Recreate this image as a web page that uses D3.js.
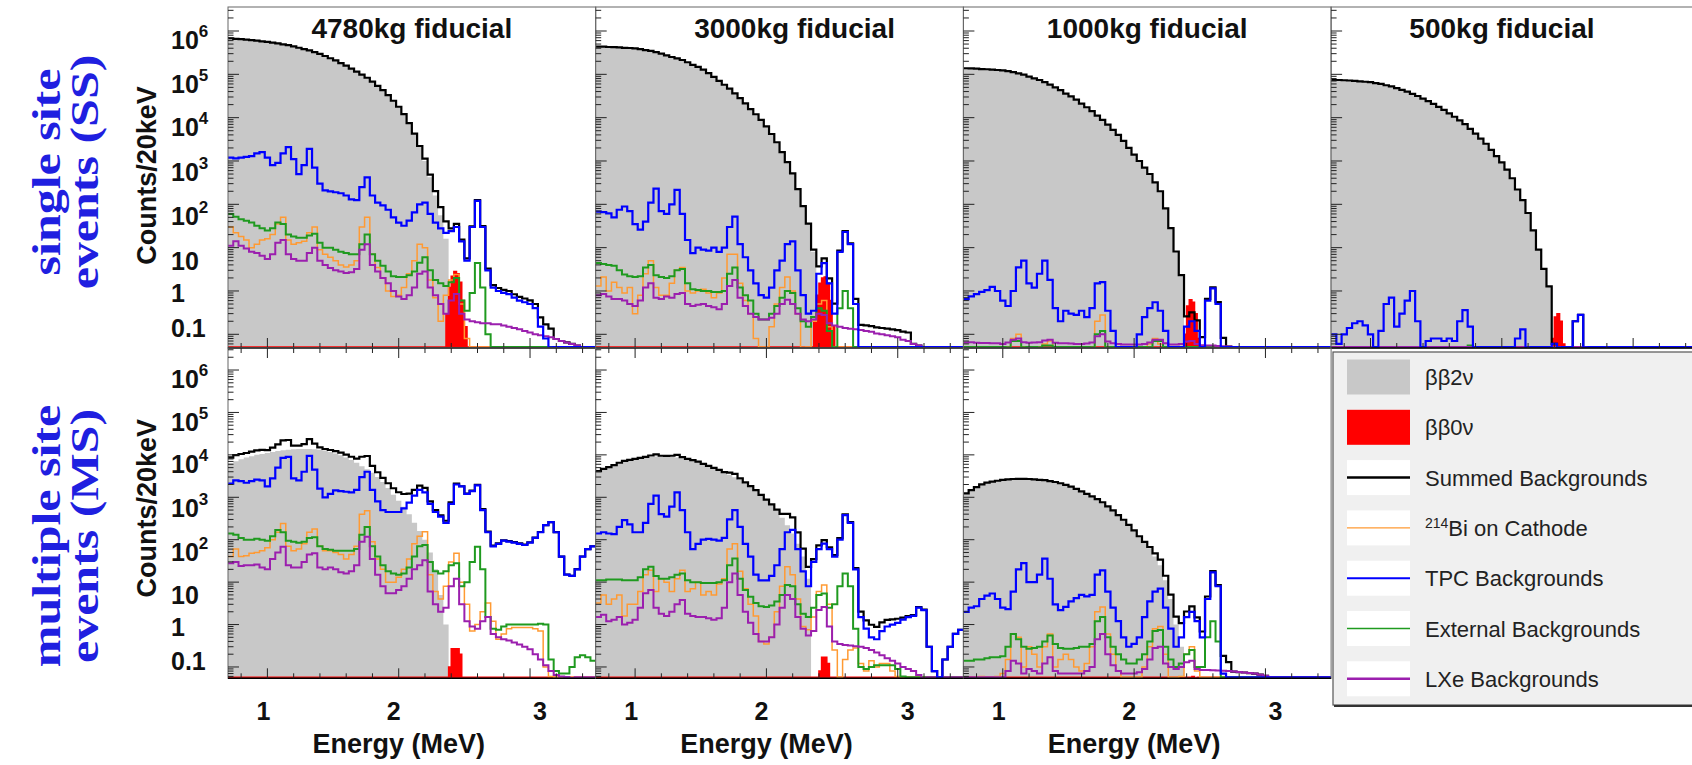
<!DOCTYPE html>
<html>
<head>
<meta charset="utf-8">
<script src="https://cdn.jsdelivr.net/npm/d3@7"></script>
<style>
  body { margin: 0; background: #fff; }
  svg text { font-family: "Liberation Sans", Arial, Helvetica, sans-serif; }
</style>
</head>
<body>
<svg id="chart" width="1692" height="765"></svg>
<script>
// ---------------------------------------------------------------
// Energy binning: 40 keV bins, lower edges in MeV
// ---------------------------------------------------------------
const binLow = [0.70,0.74,0.78,0.82,0.86,0.90,0.94,0.98,1.02,1.06,1.10,1.14,1.18,1.22,1.26,1.30,1.34,1.38,1.42,1.46,
  1.50,1.54,1.58,1.62,1.66,1.70,1.74,1.78,1.82,1.86,1.90,1.94,1.98,2.02,2.06,2.10,2.14,2.18,2.22,2.26,
  2.30,2.34,2.38,2.42,2.46,2.50,2.54,2.58,2.62,2.66,2.70,2.74,2.78,2.82,2.86,2.90,2.94,2.98,3.02,3.06,
  3.10,3.14,3.18,3.22,3.26,3.30,3.34,3.38,3.42,3.46];
const energyMax = 3.50;
const zeroNuBin = 0.02;   // the ββ0ν peak is binned at 20 keV

const panelTitles = ["4780kg fiducial", "3000kg fiducial", "1000kg fiducial", "500kg fiducial"];
const rowTitles = [["single site", "events (SS)"], ["multiple site", "events (MS)"]];
const xTickValues = [1, 2, 3];
const yTickValues = [0.1, 1, 10, 1e2, 1e3, 1e4, 1e5, 1e6];
const yTickLabels = [["0.1", ""], ["1", ""], ["10", ""], ["10", "2"], ["10", "3"], ["10", "4"], ["10", "5"], ["10", "6"]];

// ---------------------------------------------------------------
// Counts / 20 keV per component (missing trailing bins are empty)
// ---------------------------------------------------------------
// single site, 4780 kg
const ss4780_2nu = [680000,660000,645000,630000,615000,600000,575000,560000,540000,515000,490000,470000,440000,410000,380000,355000,325000,295000,265000,235000,210000,182000,158000,135000,115000,98000,83000,68000,54000,43000,33000,24500,17800,12000,7400,4200,2100,1000,420,160,56,16];
const ss4780_tpc = [1200,1150,1200,1250,1300,1500,1600,1200,800,900,1500,2100,1100,500,800,1900,700,300,210,200,190,180,160,130,125,250,420,160,110,95,75,50,38,32,42,65,100,110,60,38,28,22,24,30,14,5,30,120,30,3,1.2,1.0,0.9,0.85,0.7,0.6,0.55,0.5,0.4,0.15,0.08,0.05];
const ss4780_ext = [60,52,45,42,38,32,28,25,28,38,35,20,18,17,17,19,21,13,10,10,9,8,7.5,7,7,12,20,7,5,3.8,2.8,2.2,2.1,2.1,2.3,2.8,4.5,6,3,1.8,1.5,1.3,1.6,2,0.6,0.35,0.9,4.4,1.2,0.1];
const ss4780_bi = [30,22,18,15,10,12,15,16,20,35,50,15,12,13,14,22,30,9,7,6,5,4,3.6,4,5,30,50,7,3.5,2,1,0.75,0.8,1.2,2.5,5,12,10,1.8,0.7,0.2,0.8,1.8,2.4,0.5,0.08];
const ss4780_lxe = [11,14,11,9.5,8,7.5,6.5,5.5,7,13,15,7,5.5,5,5,7.5,10,5,4,3.4,3,2.8,2.6,2.7,3.2,9,12,4,2.8,2,1.5,1,0.75,0.65,0.8,1.2,2.5,2.8,1.2,0.8,0.5,0.3,0.6,0.85,0.3,0.22,0.2,0.19,0.18,0.18,0.17,0.17,0.16,0.15,0.14,0.13,0.12,0.11,0.1,0.095,0.09,0.085,0.078,0.07,0.065,0.06,0.055,0.05];
const ss4780_0nu = [[2.36,0.3],[2.38,1.2],[2.40,2.2],[2.42,2.8],[2.44,2.5],[2.46,1.6],[2.48,0.6],[2.50,0.15]];

// single site, 3000 kg
const ss3000_2nu = [436000,436000,427000,425000,417000,407000,405000,398000,380000,363000,347000,324000,302000,275000,251000,234000,214000,190000,166000,148000,129000,107000,87000,71000,57500,46800,36300,28200,21400,15800,12000,8900,6300,4200,2700,1600,930,500,220,90,35,8];
const ss3000_tpc = [68,66,62,50,75,89,70,35,26,40,110,230,70,60,100,215,60,15,7.5,10,9,8.5,10,8,10,30,52,12,6,3,1.5,0.8,0.7,1.2,3,5,12,14,3,0.8,0.3,0.35,2.5,4.4,1.5,0.3,8,23,12,0.5,0.04,0.04,0.04,0.04,0.04,0.04,0.04,0.04,0.04,0.04];
const ss3000_ext = [4.4,4.2,4,3.8,3,2.4,2.2,2.1,2.2,3.5,4,2.3,2.1,2,2.2,3,3.2,1.5,1.1,1.05,1,1,0.95,0.95,1,2.5,3.5,1.2,0.8,0.6,0.3,0.22,0.22,0.3,0.45,0.7,1,0.9,0.4,0.2,0.15,0.25,0.4,0.35,0.12,0.05,0.4,1,0.4,0.03];
const ss3000_bi = [1.3,2.1,1,1.6,1.2,0.9,1.2,0.3,0.8,2.5,5,1.2,0.8,0.8,1.5,3,3.5,1,0.9,1,1.1,0.9,0.7,0.9,2,7,7,1.5,0.6,0.3,0.08,0.03,0.03,0.15,0.5,1.2,2.1,1,0.3,0.05,0.03,0.2,0.5,0.6,0.15];
const ss3000_lxe = [0.8,0.85,0.75,0.65,0.65,0.6,0.5,0.45,0.6,1.2,1.5,0.7,0.65,0.75,0.7,0.85,0.9,0.5,0.45,0.48,0.5,0.45,0.42,0.38,0.5,1.3,1.8,0.7,0.45,0.3,0.25,0.22,0.22,0.24,0.3,0.5,0.63,0.5,0.3,0.22,0.2,0.22,0.3,0.28,0.18,0.16,0.15,0.14,0.135,0.13,0.125,0.12,0.115,0.105,0.1,0.095,0.09,0.085,0.075,0.07,0.06,0.055,0.05];
const ss3000_0nu = [[2.36,0.2],[2.38,0.8],[2.40,1.5],[2.42,2.0],[2.44,2.1],[2.46,1.5],[2.48,0.6],[2.50,0.15]];

// single site, 1000 kg
const ss1000_2nu = [138000,137000,135000,132000,131000,129000,126000,123000,118000,112000,105000,98000,89000,81000,74000,66000,58000,50000,43000,36000,31000,26000,21000,17400,14100,11200,8900,6900,5200,4000,2900,2000,1400,1000,700,500,320,200,80,28,8,2.2];
const ss1000_tpc = [0.65,0.75,0.85,0.95,1.05,1.25,1,0.6,0.45,1,3.5,5,1.5,1.2,2.5,5,1.8,0.4,0.2,0.35,0.3,0.28,0.35,0.25,0.4,1.5,1.6,0.35,0.12,0.04,0.03,0.03,0.05,0.1,0.25,0.4,0.55,0.35,0.12,0.04,0.03,0.03,0.15,0.2,0.12,0.03,0.6,1.15,0.5,0.03];
const ss1000_ext = [0.045,0.045,0.045,0.045,0.045,0.045,0.045,0.045,0.05,0.07,0.07,0.05,0.045,0.045,0.05,0.055,0.055,0.045,0.045,0.045,0.045,0.045,0.045,0.045,0.05,0.1,0.12,0.05,0.045,0.04,0.04,0.04,0.04,0.04,0.045,0.05,0.07,0.07,0.045,0.04,0.04];
const ss1000_bi = [0.03,0.03,0.03,0.03,0.03,0.03,0.03,0.03,0.04,0.08,0.1,0.04,0.03,0.03,0.04,0.06,0.07,0.03,0.03,0.03,0.03,0.03,0.03,0.03,0.05,0.2,0.28,0.05,0.03,0.03,0.03,0.03,0.03,0.03,0.04,0.06,0.08,0.06,0.03,0.03,0.03,0.03,0.04,0.05,0.03];
const ss1000_lxe = [0.065,0.066,0.064,0.063,0.063,0.062,0.062,0.06,0.065,0.075,0.08,0.066,0.064,0.065,0.066,0.072,0.075,0.064,0.062,0.062,0.061,0.06,0.06,0.061,0.065,0.09,0.1,0.068,0.062,0.06,0.058,0.058,0.058,0.058,0.06,0.065,0.075,0.075,0.062,0.058,0.058,0.06,0.068,0.07,0.06,0.056,0.055,0.055,0.054,0.053,0.052,0.051,0.05,0.05,0.049];
const ss1000_0nu = [[2.38,0.1],[2.40,0.45],[2.42,0.63],[2.44,0.55],[2.46,0.3],[2.48,0.08]];

// single site, 500 kg
const ss500_2nu = [74000,74000,73000,72000,71000,69000,67500,66000,63000,60000,56000,52500,48000,43600,39800,35500,31600,27500,24000,20900,17800,15100,12600,10500,8700,7100,5500,4300,3300,2500,1800,1300,930,630,400,220,125,63,25,9,3.2,1.25];
const ss500_tpc = [0.1,0.06,0.1,0.14,0.18,0.2,0.16,0.1,0.04,0.12,0.5,0.7,0.15,0.3,0.6,1,0.2,0.04,0.07,0.08,0.08,0.07,0.08,0.07,0.2,0.36,0.15,0.04,0.03,0.03,0.03,0.03,0.03,0.03,0.03,0.08,0.13,0.05,0.03,0.03,0.03,0.03,0.06,0.05,0.03,0.03,0.2,0.28,0.05];
const ss500_ext = [0,0,0,0,0,0,0,0,0,0,0,0,0,0,0,0,0,0,0,0,0,0,0,0,0,0.05,0.055];
const ss500_bi = [];
const ss500_lxe = [];
const ss500_0nu = [[2.38,0.08],[2.40,0.25],[2.42,0.3],[2.44,0.2],[2.46,0.06]];

// multiple site, 4780 kg
const ms4780_2nu = [6300,7100,7900,8700,9300,10000,10500,11000,11700,12300,12900,13200,13500,13800,13800,13800,13500,13200,12600,11700,10700,9800,8700,7600,6500,5400,4600,3800,3000,2300,1660,1150,830,600,400,250,160,100,50,20,5,1];
const ms4780_tpc = [2100,2500,2400,2200,2400,2600,2500,1800,2800,5000,8500,9000,2800,2500,4000,9500,4500,1600,1000,1200,1450,1400,1350,1300,1500,3000,4000,1500,800,500,450,450,450,550,750,1100,1500,1300,700,450,350,250,700,2000,1800,1200,1400,1900,500,150,70,80,95,90,85,80,75,85,110,150,220,260,150,40,15,14,20,40,60,70];
const ms4780_ext = [140,130,110,100,100,105,100,95,120,170,150,95,90,85,90,110,115,70,60,58,55,55,55,55,60,130,200,70,40,25,18,16,15,16,22,40,70,75,30,18,16,18,25,28,8,10,30,68,20,1.5,0.8,0.75,0.9,1,1,1,1,1,1,1.05,1.0,0.15,0.08,0.07,0.07,0.1,0.17,0.19,0.17,0.14];
const ms4780_bi = [40,60,40,42,48,50,55,65,100,150,240,70,55,60,80,150,180,70,55,55,50,45,35,45,70,400,480,90,35,20,10,10,13,20,35,80,120,155,15,6,4,8,30,48,10,3,0.7,1,2,3.2,1.2,0.45,0.6,0.8,0.85,0.85,0.85,0.85,0.8,0.7,0.1,0.06];
const ms4780_lxe = [28,30,24,25,25,26,22,20,35,50,68,25,22,22,30,45,48,22,20,22,20,17,16,18,25,90,118,35,15,8,5.5,5.5,6.5,8,12,20,25,33,6,3,2,2.5,8,12,3,1.2,0.9,0.8,1.2,1.5,0.6,0.5,0.45,0.42,0.38,0.34,0.3,0.26,0.2,0.15,0.11,0.08,0.065,0.06,0.058,0.055];
const ms4780_0nu = [[2.38,0.1],[2.40,0.27],[2.42,0.27],[2.44,0.27],[2.46,0.2]];

// multiple site, 3000 kg
const ms3000_2nu = [4000,4500,5000,5600,6300,6900,7400,7900,8300,8700,8900,9100,9100,9100,8900,8700,8300,7900,7400,6800,6000,5400,4800,4300,3800,3400,2950,2570,2140,1780,1450,1120,870,660,480,330,220,140,80,40,12];
const ms3000_tpc = [140,150,140,135,200,290,230,150,150,250,700,1100,400,350,600,1300,500,150,60,80,100,105,100,95,110,300,500,200,80,40,15,11,11,14,25,60,150,170,60,18,8,30,60,81,60,40,100,380,250,20,1.5,0.8,0.5,0.45,0.7,0.9,1,1.1,1.3,1.5,1.6,2.5,2.2,0.3,0.08,0.05,0.15,0.3,0.6,0.75];
const ms3000_ext = [11,11,11.5,11.5,11.5,11,11,11,13,20,23,14,12,12,13,15,16,11,10,10,9.5,9.5,9.5,10,11,25,36,12,6.5,4.5,3.2,2.7,2.6,2.8,3.5,5,8.5,8,3,1.8,1.5,2.5,5,5.4,2.5,3,8,16,8,0.8,0.1,0.09,0.1,0.11,0.11,0.11,0.11,0.09,0.06];
const ms3000_bi = [3.2,5,3,4,5,1.6,3,3,6,15,19,6,12,10,6,12,19,6,7,10,5,6,5,9,12,60,80,18,7,3,1.6,0.4,0.35,0.5,2,8,23,15,4,0.9,0.75,1.5,6,8.5,3,0.25,0.05,0.15,0.25,0.28,0.12,0.08,0.14,0.1,0.12,0.12,0.08,0.06];
const ms3000_lxe = [1.5,1.7,1.2,1.3,1.5,1,1.1,1.3,2.5,5.5,6.5,2.5,1.8,1.6,2,3,3.8,1.8,1.6,1.5,1.5,1.4,1.3,1.4,2.5,10,16,5,2,1.1,0.6,0.4,0.4,0.5,1,2.5,5,4,1.5,0.8,0.55,0.7,2.2,2.6,0.9,0.4,0.35,0.33,0.32,0.31,0.3,0.28,0.25,0.22,0.19,0.16,0.14,0.12,0.1,0.09,0.08,0.065,0.055];
const ms3000_0nu = [[2.40,0.08],[2.42,0.17],[2.44,0.17],[2.46,0.12]];

// multiple site, 1000 kg
const ms1000_2nu = [1230,1480,1740,2000,2200,2340,2450,2570,2630,2690,2690,2690,2690,2630,2570,2510,2400,2290,2140,1950,1780,1580,1380,1200,1050,890,740,600,490,380,295,224,166,120,87,63,40,25,11,4,1,0.3];
const ms1000_tpc = [2,2.5,2.7,4,4.8,5.4,4,2.5,2.3,6,20,28,10,10,15,36,12,3,2.2,2.6,3.5,4.2,5,4.6,5,15,19,6,2.5,1.2,0.5,0.3,0.35,0.5,1.5,3.5,6,7,2.5,0.8,0.3,0.5,1.5,2,1.2,0.5,4,17,8,0.07,0.05];
const ms1000_ext = [0.14,0.14,0.15,0.15,0.16,0.17,0.17,0.18,0.3,0.6,0.45,0.3,0.27,0.28,0.3,0.4,0.55,0.35,0.28,0.27,0.27,0.28,0.3,0.3,0.35,1.2,1.5,0.5,0.3,0.2,0.15,0.12,0.12,0.15,0.2,0.4,0.7,0.74,0.3,0.15,0.1,0.12,0.2,0.25,0.1,0.1,0.5,1.2,0.4,0.03];
const ms1000_bi = [0.04,0.05,0.04,0.06,0.05,0.04,0.06,0.07,0.15,0.6,0.5,0.1,0.3,0.2,0.1,0.3,0.6,0.1,0.15,0.2,0.15,0.1,0.08,0.12,0.3,2,2.6,0.6,0.2,0.08,0.04,0.03,0.03,0.05,0.1,0.3,0.8,0.9,0.2,0.05,0.04,0.06,0.2,0.3,0.08];
const ms1000_lxe = [0.04,0.05,0.05,0.05,0.05,0.05,0.05,0.05,0.08,0.14,0.12,0.07,0.09,0.08,0.07,0.12,0.17,0.08,0.07,0.07,0.07,0.07,0.07,0.08,0.1,0.45,0.6,0.2,0.11,0.08,0.07,0.07,0.07,0.075,0.09,0.15,0.28,0.3,0.12,0.1,0.09,0.1,0.13,0.14,0.09,0.085,0.085,0.084,0.083,0.082,0.08,0.078,0.076,0.074,0.072,0.07,0.066,0.062,0.058,0.054,0.05];
const ms1000_0nu = [[2.42,0.05],[2.44,0.06],[2.46,0.055]];

// ---------------------------------------------------------------
// Panel table
// ---------------------------------------------------------------
const panels = [
  { row: 0, col: 0, twoNu: ss4780_2nu, zeroNu: ss4780_0nu, tpc: ss4780_tpc, ext: ss4780_ext, bi: ss4780_bi, lxe: ss4780_lxe },
  { row: 0, col: 1, twoNu: ss3000_2nu, zeroNu: ss3000_0nu, tpc: ss3000_tpc, ext: ss3000_ext, bi: ss3000_bi, lxe: ss3000_lxe },
  { row: 0, col: 2, twoNu: ss1000_2nu, zeroNu: ss1000_0nu, tpc: ss1000_tpc, ext: ss1000_ext, bi: ss1000_bi, lxe: ss1000_lxe },
  { row: 0, col: 3, twoNu: ss500_2nu,  zeroNu: ss500_0nu,  tpc: ss500_tpc,  ext: ss500_ext,  bi: ss500_bi,  lxe: ss500_lxe },
  { row: 1, col: 0, twoNu: ms4780_2nu, zeroNu: ms4780_0nu, tpc: ms4780_tpc, ext: ms4780_ext, bi: ms4780_bi, lxe: ms4780_lxe },
  { row: 1, col: 1, twoNu: ms3000_2nu, zeroNu: ms3000_0nu, tpc: ms3000_tpc, ext: ms3000_ext, bi: ms3000_bi, lxe: ms3000_lxe },
  { row: 1, col: 2, twoNu: ms1000_2nu, zeroNu: ms1000_0nu, tpc: ms1000_tpc, ext: ms1000_ext, bi: ms1000_bi, lxe: ms1000_lxe }
];

const colors = {
  twoNu: "#c8c8c8", zeroNu: "#ff0000", sum: "#000000",
  bi: "#ff9a33", tpc: "#0000ff", ext: "#1f9a1f", lxe: "#9b1fae"
};

const legendItems = [
  { key: "twoNu", kind: "box",  sup: "", text: "ββ2ν" },
  { key: "zeroNu", kind: "box", sup: "", text: "ββ0ν" },
  { key: "sum", kind: "line",   sup: "", text: "Summed Backgrounds", width: 2.5 },
  { key: "bi", kind: "line",    sup: "214", text: "Bi on Cathode", width: 1.2 },
  { key: "tpc", kind: "line",   sup: "", text: "TPC Backgrounds", width: 2 },
  { key: "ext", kind: "line",   sup: "", text: "External Backgrounds", width: 1.5 },
  { key: "lxe", kind: "line",   sup: "", text: "LXe Backgrounds", width: 2.5 }
];

// ---------------------------------------------------------------
// Layout
// ---------------------------------------------------------------
const svg = d3.select("#chart");
const colLeft = [228, 595.7, 963.4, 1331.1];
const colWidth = 367.7;
const rowBox = [
  { top: 7,   bottom: 348,   yMin: Math.pow(10, -1.316), yMax: Math.pow(10, 6.554) },
  { top: 348, bottom: 678.3, yMin: Math.pow(10, -1.267), yMax: Math.pow(10, 6.519) }
];
const titleShift = [0, 15, 0, -13];
const xLabelShift = [-4, -5, 10];              // hand-placed energy labels sit slightly off their ticks
const yLabelShift = [-6, 2, 13, 7, 6, 4, 5, 4]; // same for the count labels (0.1 ... 10^6)
const boldFont = "bold";

svg.append("rect").attr("width", 1692).attr("height", 765).attr("fill", "#fff");

function drawPanel(p, idx) {
  const L = colLeft[p.col], R = L + colWidth;
  const box = rowBox[p.row];
  const x = d3.scaleLinear().domain([binLow[0], energyMax]).range([L, R]);
  const y = d3.scaleLog().domain([box.yMin, box.yMax]).range([box.bottom, box.top]);
  const floorY = box.bottom - 1;
  const yLine = v => (v > box.yMin ? y(v) : floorY);
  const yFill = v => (v > box.yMin ? y(v) : box.bottom);

  const g = svg.append("g");
  const clipId = "clip" + idx;
  g.append("clipPath").attr("id", clipId)
    .append("rect").attr("x", L).attr("y", box.top).attr("width", colWidth).attr("height", box.bottom - box.top);
  const plot = g.append("g").attr("clip-path", `url(#${clipId})`);

  const hist = arr => binLow.map((e, i) => [e, arr[i] || 0])
    .concat([[energyMax, arr[binLow.length - 1] || 0]]);
  const sumVals = binLow.map((e, i) =>
    (p.twoNu[i] || 0) + (p.tpc[i] || 0) + (p.ext[i] || 0) + (p.bi[i] || 0) + (p.lxe[i] || 0));

  const line = d3.line().x(d => x(d[0])).y(d => yLine(d[1])).curve(d3.curveStepAfter);
  const area = d3.area().x(d => x(d[0])).y0(box.bottom).y1(d => yFill(d[1])).curve(d3.curveStepAfter);

  // ββ2ν: grey filled histogram
  plot.append("path").attr("d", area(hist(p.twoNu))).attr("fill", colors.twoNu);

  // ββ0ν: red filled peak, outline running along the floor elsewhere
  const last = p.zeroNu[p.zeroNu.length - 1];
  const zn = [[binLow[0], 0]].concat(p.zeroNu, [[last[0] + zeroNuBin, 0], [energyMax, 0]]);
  plot.append("path").attr("d", area(zn)).attr("fill", colors.zeroNu);
  plot.append("path").attr("d", line(zn)).attr("fill", "none")
    .attr("stroke", colors.zeroNu).attr("stroke-width", 1.5);

  // summed line first, components drawn over it
  const series = [
    { vals: sumVals, color: colors.sum, w: 2.2 },
    { vals: p.bi, color: colors.bi, w: 1.5 },
    { vals: p.ext, color: colors.ext, w: 2 },
    { vals: p.lxe, color: colors.lxe, w: 2 },
    { vals: p.tpc, color: colors.tpc, w: 2.2 }
  ];
  series.forEach(s => {
    plot.append("path").attr("d", line(hist(s.vals))).attr("fill", "none")
      .attr("stroke", s.color).attr("stroke-width", s.w).attr("stroke-linejoin", "miter");
  });

  // frame
  g.append("rect").attr("x", L).attr("y", box.top).attr("width", colWidth)
    .attr("height", box.bottom - box.top).attr("fill", "none").attr("stroke", "#666").attr("stroke-width", 1);
  g.append("line").attr("x1", L).attr("x2", R).attr("y1", box.bottom).attr("y2", box.bottom)
    .attr("stroke", "#000").attr("stroke-width", 1.6);

  // y ticks (log, with 2..9 minor ticks)
  const ticks = g.append("g").attr("stroke", "#222").attr("stroke-width", 1);
  for (let k = -2; k <= 6; k++) {
    for (let m = 1; m <= 9; m++) {
      const v = m * Math.pow(10, k);
      if (v < box.yMin || v > box.yMax) continue;
      const len = m === 1 ? 11 : 5.5;
      ticks.append("line").attr("x1", L).attr("x2", L + len).attr("y1", y(v)).attr("y2", y(v));
    }
  }
  // x ticks: majors at integers, minors every 0.2 MeV
  const minor = d3.range(8, 35, 2).map(v => v / 10);
  minor.forEach(v => {
    const major = Math.abs(v - Math.round(v)) < 1e-6;
    const len = major ? 10 : 5;
    ticks.append("line").attr("x1", x(v)).attr("x2", x(v)).attr("y1", box.bottom).attr("y2", box.bottom - len);
    if (p.row === 1) {
      ticks.append("line").attr("x1", x(v)).attr("x2", x(v)).attr("y1", box.top).attr("y2", box.top + len);
    }
  });

  // title
  if (p.row === 0) {
    g.append("text").attr("x", (L + R) / 2 + titleShift[p.col]).attr("y", 38)
      .attr("text-anchor", "middle").attr("font-size", 28).attr("font-weight", boldFont)
      .attr("fill", "#111").text(panelTitles[p.col]);
  }

  // y tick labels on the first column
  if (p.col === 0) {
    yTickValues.forEach((v, i) => {
      const [base, exp] = yTickLabels[i];
      const t = g.append("text").attr("x", 171).attr("y", y(v) + (exp ? 14 : 9) + yLabelShift[i])
        .attr("font-size", 25).attr("font-weight", boldFont).attr("fill", "#111");
      t.append("tspan").text(base);
      if (exp) t.append("tspan").attr("dy", -12).attr("font-size", 17).text(exp);
    });
    g.append("text")
      .attr("transform", `translate(156,${(box.top + box.bottom) / 2 + (p.row === 0 ? -2 : -5)}) rotate(-90)`)
      .attr("text-anchor", "middle").attr("font-size", 27).attr("font-weight", boldFont)
      .attr("fill", "#111").text("Counts/20keV");
  }

  // x tick labels and title on the bottom row
  if (p.row === 1) {
    xTickValues.forEach((v, i) => {
      g.append("text").attr("x", x(v) + xLabelShift[i]).attr("y", 720).attr("text-anchor", "middle")
        .attr("font-size", 25).attr("font-weight", boldFont).attr("fill", "#111").text(v);
    });
    g.append("text").attr("x", x(2.0)).attr("y", 753).attr("text-anchor", "middle")
      .attr("font-size", 27).attr("font-weight", boldFont).attr("fill", "#111").text("Energy (MeV)");
  }
}

panels.forEach(drawPanel);

// row titles (blue serif, rotated, two lines each)
const rowCenters = [172, 536];
rowTitles.forEach((lines, r) => {
  [60, 98].forEach((bx, j) => {
    svg.append("text")
      .attr("transform", `translate(${bx},${rowCenters[r]}) rotate(-90) scale(1.25,1)`)
      .attr("text-anchor", "middle")
      .style("font-family", '"Liberation Serif", "Times New Roman", serif')
      .attr("font-size", 40).attr("font-weight", "bold").attr("fill", "#1f1fe0")
      .text(lines[j]);
  });
});

// legend
const lg = svg.append("g");
lg.append("rect").attr("x", 1333).attr("y", 352).attr("width", 420).attr("height", 353)
  .attr("fill", "#f0f0f0").attr("stroke", "#555").attr("stroke-width", 1.2);
lg.append("line").attr("x1", 1334).attr("x2", 1692).attr("y1", 706).attr("y2", 706)
  .attr("stroke", "#333").attr("stroke-width", 2);
legendItems.forEach((it, i) => {
  const cy = 377 + i * 50.3;
  const sw = lg.append("rect").attr("x", 1347).attr("y", cy - 17.5).attr("width", 63).attr("height", 35);
  if (it.kind === "box") {
    sw.attr("fill", colors[it.key]);
  } else {
    sw.attr("fill", "#fff");
    lg.append("line").attr("x1", 1347).attr("x2", 1410).attr("y1", cy).attr("y2", cy)
      .attr("stroke", colors[it.key]).attr("stroke-width", it.width);
  }
  const t = lg.append("text").attr("x", 1425).attr("y", cy + 8).attr("font-size", 22).attr("fill", "#222");
  if (it.sup) {
    t.append("tspan").attr("font-size", 14).attr("dy", -8).text(it.sup);
    t.append("tspan").attr("dy", 8).text(it.text);
  } else {
    t.text(it.text);
  }
});
</script>
</body>
</html>
